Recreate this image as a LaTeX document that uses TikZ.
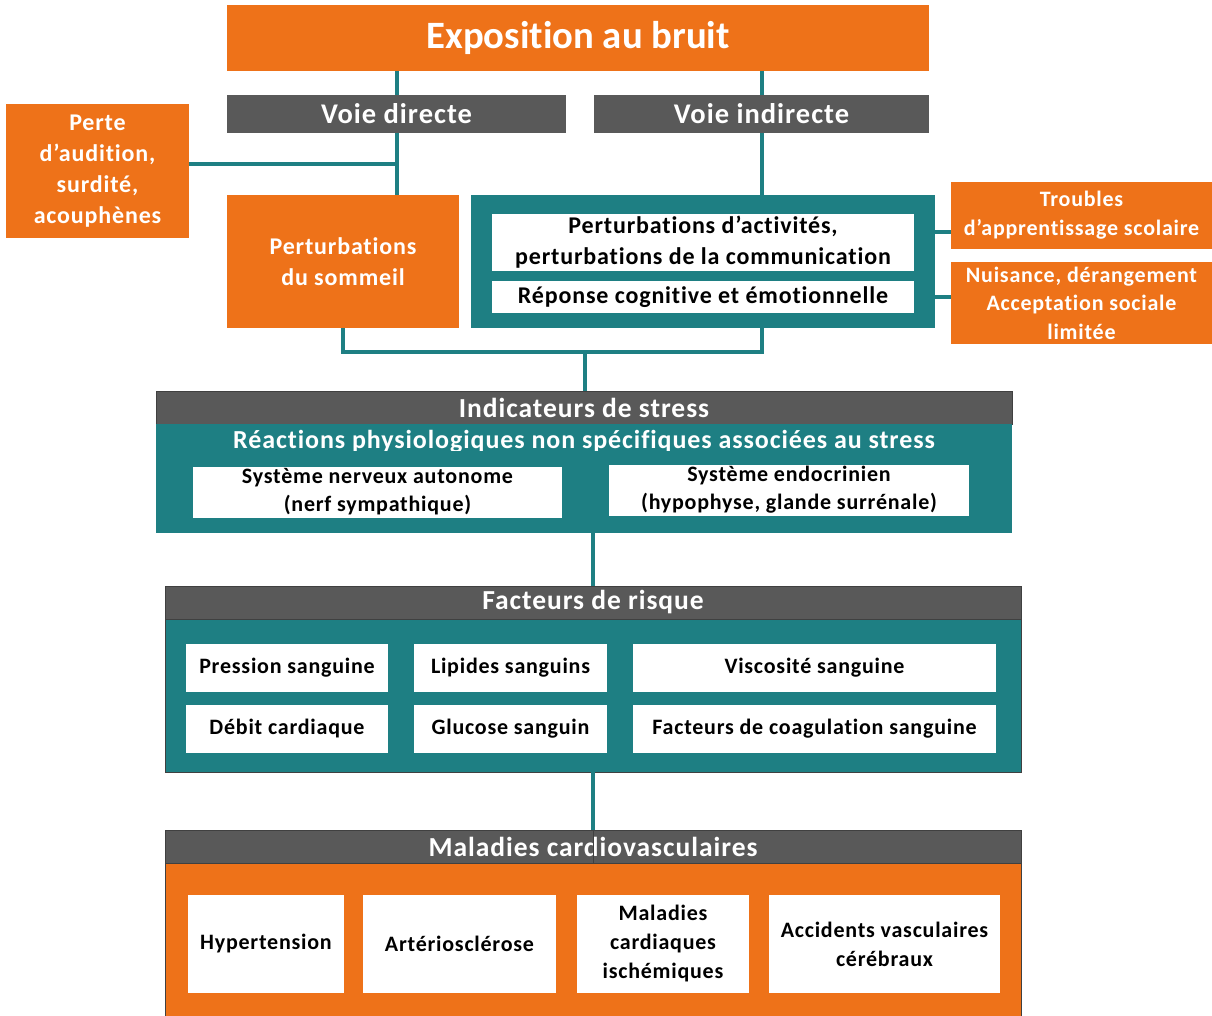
\documentclass[tikz,border=0pt]{standalone}
\usepackage{fontspec}
\setmainfont{Carlito}[LetterSpace=3.5,Ligatures={NoCommon}]
\newfontfamily\titlefont{Carlito}[Ligatures={NoCommon}]
\definecolor{orng}{HTML}{EE7219}
\definecolor{gry}{HTML}{595959}
\definecolor{tealc}{HTML}{1E7F83}
\newcommand{\fs}[2]{\fontsize{#1}{#2}\selectfont\bfseries}
\tikzset{
  base/.style={rectangle, inner sep=0pt, outer sep=0pt, align=center},
  obox/.style={base, fill=orng, text=white},
  gbar/.style={base, fill=gry, draw=black!75, line width=0.8pt, text=white, font=\fs{27.5}{30}},
  tbox/.style={base, fill=tealc},
  wbox/.style={base, fill=white, text=black},
  conn/.style={draw=tealc, line width=4pt}
}
\begin{document}
\begin{tikzpicture}[x=1pt,y=-1pt]
\useasboundingbox[fill=white] (0,0) rectangle (1212,1016);
% top
\node[obox, minimum width=702, minimum height=66, font=\titlefont\fs{38.7}{42}] (title) at (578,38) {Exposition au bruit};
\node[gbar, draw=none, minimum width=339, minimum height=38, font=\fs{28.5}{30}] (vd) at (396.5,114) {Voie directe};
\node[gbar, draw=none, minimum width=335, minimum height=38, font=\fs{28.5}{30}] (vi) at (761.5,114) {Voie indirecte};
\node[obox, minimum width=183, minimum height=134, font=\fs{24}{31}] (perte) at (97.5,171) {Perte\\d’audition,\\surdité,\\acouphènes};
\node[obox, minimum width=232, minimum height=133, font=\fs{24}{31}] (sommeil) at (343,261.5) {Perturbations\\du sommeil};
\node[tbox, minimum width=464, minimum height=133] (frame) at (703,261.5) {};
\node[wbox, minimum width=422, minimum height=57, font=\fs{24}{31}] (in1) at (703,242.5) {Perturbations d’activités,\\perturbations de la communication};
\node[wbox, minimum width=422, minimum height=32, font=\fs{24}{31}] (in2) at (703,297) {Réponse cognitive et émotionnelle};
\node[obox, minimum width=261, minimum height=67, font=\fs{22}{29}] (troubles) at (1081.5,215.5) {Troubles\\d’apprentissage scolaire};
\node[obox, minimum width=261, minimum height=82, font=\fs{22}{28.5}] (nuis) at (1081.5,303) {Nuisance, dérangement\\Acceptation sociale\\limitée};
% stress
\node[gbar, minimum width=856, minimum height=33] (indic) at (584,407.5) {Indicateurs de stress};
\node[tbox, minimum width=856, minimum height=109] (sbody) at (584,478.5) {};
\begin{scope}
\clip (156,424) rectangle (1012,450);
\node[base, text=white, font=\fs{26}{28}] (react) at (584,441.5) {Réactions physiologiques non spécifiques associées au stress};
\end{scope}
\node[wbox, minimum width=369, minimum height=51, font=\fs{22}{28}] (sna) at (377.5,492) {Système nerveux autonome\\(nerf sympathique)};
\node[wbox, minimum width=360, minimum height=51, font=\fs{22}{28}] (endo) at (789,490) {Système endocrinien\\(hypophyse, glande surrénale)};
% facteurs
\node[gbar, minimum width=856, minimum height=33] (fbar) at (593,602.5) {Facteurs de risque};
\node[tbox, draw=black!75, line width=0.8pt, minimum width=856, minimum height=153] (fbody) at (593,695.5) {};
\tikzset{fw/.style={wbox, minimum height=48, font=\fs{22}{28}}}
\node[fw, minimum width=202] (f1) at (287,668) {Pression sanguine};
\node[fw, minimum width=193] (f2) at (510.5,668) {Lipides sanguins};
\node[fw, minimum width=363] (f3) at (814.5,668) {Viscosité sanguine};
\node[fw, minimum width=202] (f4) at (287,729) {Débit cardiaque};
\node[fw, minimum width=193] (f5) at (510.5,729) {Glucose sanguin};
\node[fw, minimum width=363] (f6) at (814.5,729) {Facteurs de coagulation sanguine};
% maladies
\node[gbar, minimum width=856, minimum height=33] (mbar) at (593,846.5) {Maladies cardiovasculaires};
\node[obox, draw=black!75, line width=0.8pt, minimum width=856, minimum height=160] (mbody) at (593,943) {};
\tikzset{mw/.style={wbox, minimum height=98, font=\fs{22}{29}}}
\node[mw, minimum width=156] (m1) at (266,944) {Hypertension};
\node[mw, minimum width=193] (m2) at (459.5,944) {Artériosclérose};
\node[mw, minimum width=172] (m3) at (663,944) {Maladies\\cardiaques\\ischémiques};
\node[mw, minimum width=231] (m4) at (884.5,944) {Accidents vasculaires\\cérébraux};
% connectors
\draw[conn] (title.south -| vd) -- (vd.north);
\draw[conn] (title.south -| vi) -- (vi.north);
\draw[conn] (vd.south) -- (sommeil.north -| vd);
\draw[conn] ([yshift=7pt]perte.east) -- ([yshift=7pt]perte.east -| vd);
\draw[conn] (vi.south) -- (frame.north -| vi);
\draw[conn] (frame.east |- 0,232) -- (troubles.west |- 0,232);
\draw[conn] (frame.east |- in2) -- (nuis.west |- in2);
\coordinate (j) at (585,352);
\draw[conn] (sommeil.south) |- (j) -| (vi |- frame.south);
\draw[conn] (j) -- (j |- indic.north);
\draw[conn] (sbody.south -| fbar) -- (fbar.north);
\draw[conn] (fbody.south) -- (mbar.north);
\draw[black!75, line width=0.8pt] (mbar.north) -- (mbar.south);
\end{tikzpicture}
\end{document}
